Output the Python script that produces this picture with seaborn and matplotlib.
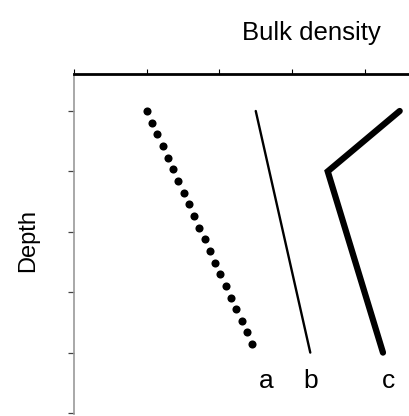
import matplotlib
matplotlib.use("Agg")
import matplotlib.pyplot as plt
import seaborn as sns
import pandas as pd
import numpy as np

sns.set_theme(style="white")
plt.rcParams['font.family'] = ['Liberation Sans', 'DejaVu Sans']
plt.rcParams['text.color'] = 'black'

# Data
a_x = [1.0, 2.45]
a_y = [1.0, 4.86]
b_x = [2.50, 3.25]
b_y = [1.0, 5.0]
c_x = [4.48, 3.49, 4.25]
c_y = [1.0, 2.0, 5.0]
labels = ["a", "b", "c"]
label_x = [2.64, 3.26, 4.33]
label_y = [5.47, 5.47, 5.47]
x_ticks = [0, 1, 2, 3, 4]
y_ticks = [1, 2, 3, 4, 5, 6]

W, H = 409, 416
fig = plt.figure(figsize=(W / 100, H / 100), dpi=100)
ax = fig.add_axes([74 / W, 1 - 414 / H, (W - 74) / W, (414 - 74) / H])

n_dots = 21
da = pd.DataFrame({"x": np.linspace(a_x[0], a_x[1], n_dots), "y": np.linspace(a_y[0], a_y[1], n_dots)})
sns.scatterplot(data=da, x="x", y="y", ax=ax, color="black", s=34, linewidth=0, legend=False)

db = pd.DataFrame({"x": b_x, "y": b_y})
sns.lineplot(data=db, x="x", y="y", ax=ax, color="black", linewidth=1.7, sort=False, estimator=None)
dc = pd.DataFrame({"x": c_x, "y": c_y})
sns.lineplot(data=dc, x="x", y="y", ax=ax, color="black", linewidth=4.5, sort=False, estimator=None,
             solid_capstyle="round", solid_joinstyle="miter")

for t, x, y in zip(labels, label_x, label_y):
    ax.text(x, y, t, fontsize=19, ha="center", va="center", color="black")

ax.set_xlim(0, (W - 74) / 72.7)
ax.set_ylim(1 + (414 - 111) / 60.4, 1 - (111 - 74) / 60.4)
ax.set_xticks(x_ticks)
ax.set_yticks(y_ticks)
ax.set_xticklabels([])
ax.set_yticklabels([])
ax.xaxis.tick_top()
ax.tick_params(axis="x", direction="out", length=3.5, width=0.8, color="black", top=True, bottom=False)
ax.tick_params(axis="y", direction="out", length=4, width=0.9, color="#444444", left=True)
ax.set_xlabel("")
ax.set_ylabel("")
for s in ["right", "bottom"]:
    ax.spines[s].set_visible(False)
ax.spines["top"].set_color("black")
ax.spines["top"].set_linewidth(2)
ax.spines["left"].set_color("#999999")
ax.spines["left"].set_linewidth(1.2)

fig.text(311 / W, 1 - 33 / H, "Bulk density", fontsize=18.5, ha="center", va="center", color="black")
fig.text(28 / W, 1 - 240 / H, "Depth", fontsize=17, ha="center", va="center", rotation=90, color="black")

fig.savefig("out.png", dpi=100)
